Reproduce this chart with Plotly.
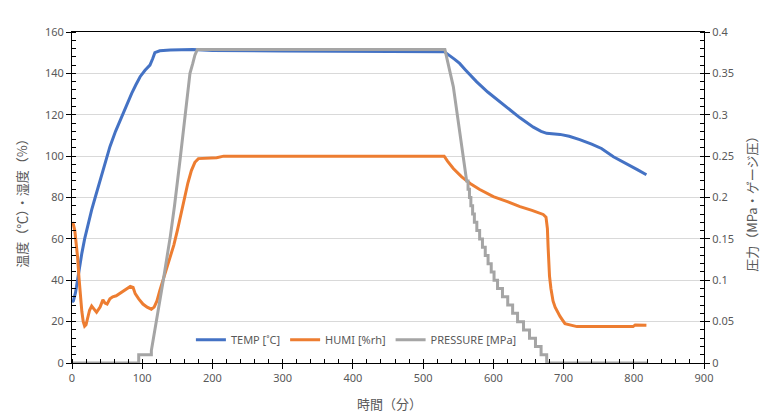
import plotly.graph_objects as go

# ---- data ----
temp_t = [0, 2, 5, 8, 11, 14, 18, 23, 28, 33, 37, 44, 54, 62, 70, 78, 85, 91, 97, 104, 111, 115, 118, 125, 140, 172, 200, 300, 400, 500, 530,
          545, 552, 560, 576, 592, 609, 625, 638, 657, 668, 676, 695, 708, 723, 740, 754, 771, 790, 805, 818]
temp_v = [29.5, 30, 34, 41, 48, 53, 60, 67.5, 74, 80, 84.5, 93, 104.6, 112, 118.5, 125, 130.3, 134.5, 138.4, 141.5, 144, 147.2, 150, 150.9, 151.3, 151.6, 151, 150.8, 150.8, 150.8, 150.5,
          146.8, 144.8, 141.8, 136, 131, 126.3, 122, 118.5, 114, 112, 111, 110.5, 109.6, 108, 105.8, 103.7, 99.7, 96, 93.5, 91]

humi_t = [0, 2, 4, 6, 8, 10, 12, 14, 16, 18, 20, 22, 25, 28, 31, 35, 40, 44, 47, 50, 54, 58, 63, 68, 75, 83, 87, 90, 95, 101, 107, 113,
          117, 121, 125, 130, 135, 140, 145, 150, 155, 160, 165, 170, 175, 180, 206, 216, 300, 400, 500, 530, 535, 543, 555, 567, 580,
          600, 620, 638, 655, 665, 671, 675, 677, 678, 680, 682, 685, 688, 695, 702, 710, 719, 750, 799, 802, 818]
humi_v = [68, 67, 64, 58, 51, 41, 31, 25, 20, 17.8, 18.5, 21, 25.5, 27.5, 26, 24.5, 27, 30.5, 29, 28.5, 31, 32, 32.5, 33.6, 35, 37, 36.5, 33.5, 31, 28.5, 27, 26,
          27, 30, 35, 40.5, 45.5, 51, 57, 64, 72, 80, 87, 93, 97, 98.8, 99.2, 100, 100, 100, 100, 100, 97.5, 94, 90, 86.8, 84,
          80.4, 78, 75.6, 73.8, 72.5, 71.8, 70.5, 65, 56, 42, 36, 30, 27, 22.5, 19, 18.3, 17.6, 17.6, 17.6, 18.4, 18.3]

# pressure: smooth part (time, MPa)
pres_t = [0, 95, 95, 113, 113, 120, 130, 140, 146, 153.8, 160, 168, 172, 175, 178.5, 300, 400, 531, 543, 557, 562]
pres_v = [0, 0, 0.01, 0.01, 0.015, 0.048, 0.1, 0.153, 0.19, 0.245, 0.29, 0.35, 0.362, 0.372, 0.379, 0.379, 0.379, 0.379, 0.334, 0.253, 0.22]
# pressure: stepped decay (time at which each level is reached)
step_t = [564, 566, 568, 570.5, 573, 576.5, 580.5, 584.5, 588.5, 592.5, 597, 601, 606, 613, 620.5, 627.5, 634.5, 643, 651.5, 660, 668, 676]
step_v = [0.21, 0.20, 0.19, 0.18, 0.17, 0.16, 0.15, 0.14, 0.13, 0.12, 0.11, 0.10, 0.09, 0.08, 0.07, 0.06, 0.05, 0.04, 0.03, 0.02, 0.01, 0.0]
pres_end_t = 820

names = ["TEMP [˚C]", "HUMI [%rh]", "PRESSURE [MPa]"]
colors = ["#4472C4", "#ED7D31", "#A5A5A5"]

FONT = "Noto Sans, Noto Sans CJK JP, sans-serif"
GRAY = "#595959"

# build pressure path (staircase through the step lists)
px, py = list(pres_t), list(pres_v)
for t, v in zip(step_t, step_v):
    px += [t, t]
    py += [py[-1], v]
px.append(pres_end_t)
py.append(py[-1])

fig = go.Figure()
fig.add_trace(go.Scatter(x=temp_t, y=temp_v, mode="lines", name=names[0],
                         line=dict(color=colors[0], width=3)))
fig.add_trace(go.Scatter(x=humi_t, y=humi_v, mode="lines", name=names[1],
                         line=dict(color=colors[1], width=3)))
fig.add_trace(go.Scatter(x=px, y=py, mode="lines", name=names[2], yaxis="y2",
                         line=dict(color=colors[2], width=3)))

fig.update_layout(
    width=779, height=419,
    margin=dict(l=72, r=75, t=32, b=56),
    paper_bgcolor="white", plot_bgcolor="white",
    font=dict(family=FONT, size=11, color=GRAY),
    showlegend=True,
    legend=dict(orientation="h", x=0.45, y=0.07, xanchor="center", yanchor="middle",
                bgcolor="rgba(255,255,255,0)", font=dict(size=11, color=GRAY),
                itemwidth=30, tracegroupgap=0),
    xaxis=dict(range=[0, 900], dtick=100, showgrid=False, zeroline=False,
               showline=True, linecolor="black", linewidth=1, mirror=True,
               ticks="outside", ticklen=5, tickcolor="black",
               minor=dict(dtick=20, ticks="inside", ticklen=4, tickcolor="black"),
               tickfont=dict(size=11, color=GRAY)),
    yaxis=dict(range=[0, 160], dtick=20, showgrid=True, gridcolor="#D9D9D9", zeroline=False,
               showline=True, linecolor="black", linewidth=1,
               ticks="outside", ticklen=5, tickcolor="black",
               minor=dict(dtick=4, ticks="inside", ticklen=4, tickcolor="black", showgrid=False),
               tickfont=dict(size=11, color=GRAY)),
    yaxis2=dict(range=[0, 0.4], dtick=0.05, overlaying="y", side="right", showgrid=False, zeroline=False,
                showline=True, linecolor="black", linewidth=1,
                ticks="outside", ticklen=5, tickcolor="black",
                minor=dict(dtick=0.01, ticks="inside", ticklen=4, tickcolor="black", showgrid=False),
                tickfont=dict(size=11, color=GRAY)),
    annotations=[
        dict(text="温度（℃）・湿度（%）", xref="paper", yref="paper", x=-50 / 632, y=0.49,
             xanchor="center", yanchor="middle", textangle=-90, showarrow=False,
             font=dict(family="Noto Sans CJK JP", size=13, color=GRAY)),
        dict(text="圧力（MPa・ゲージ圧）", xref="paper", yref="paper", x=1 + 48 / 632, y=0.49,
             xanchor="center", yanchor="middle", textangle=-90, showarrow=False,
             font=dict(family="Noto Sans CJK JP", size=13, color=GRAY)),
        dict(text="時間（分）", xref="paper", yref="paper", x=(389 - 72) / 632, y=-(403 - 363) / 331,
             xanchor="center", yanchor="middle", showarrow=False,
             font=dict(family="Noto Sans CJK JP", size=13, color=GRAY)),
    ],
)

fig.write_html("out.html")
